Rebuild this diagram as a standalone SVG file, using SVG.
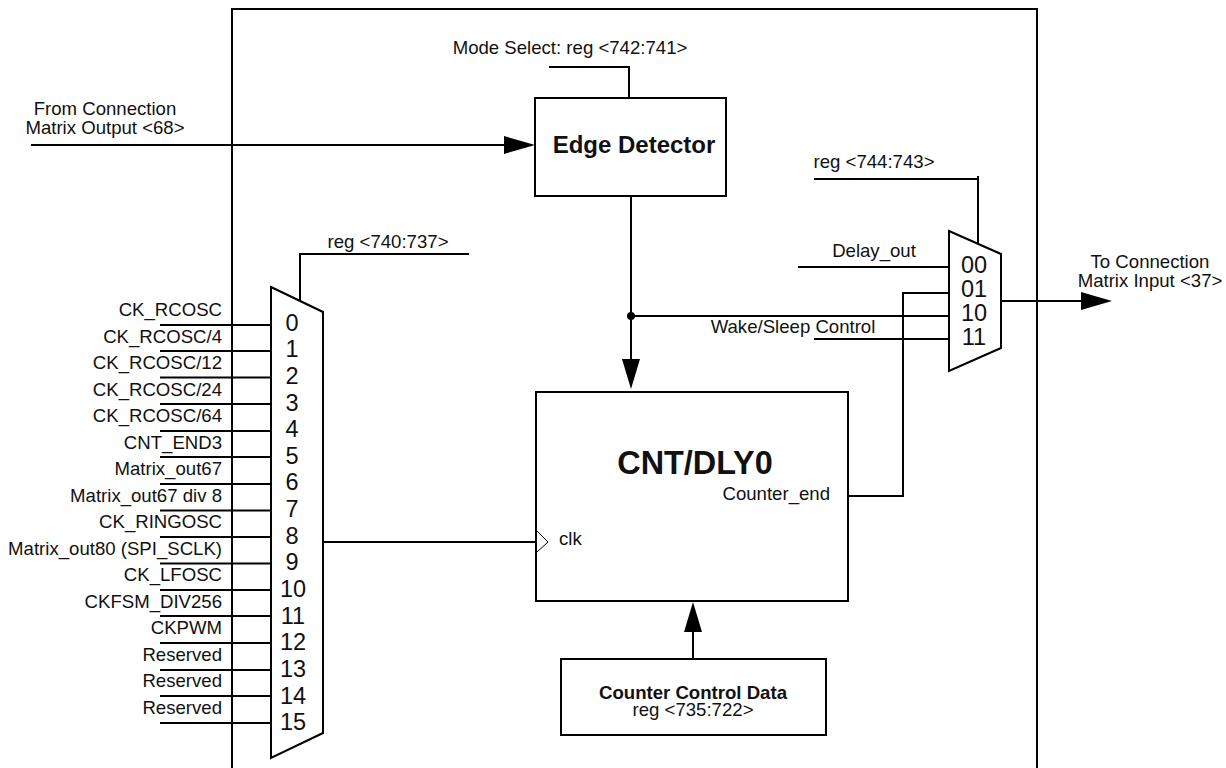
<svg xmlns="http://www.w3.org/2000/svg" width="1226" height="768" viewBox="0 0 1226 768">
<style>
text{font-family:"Liberation Sans",Arial,sans-serif;fill:#111}
.l{font-size:18.6px}
.e{text-anchor:end}
.d{font-size:23.5px;text-anchor:middle}
.w{fill:none;stroke:#000;stroke-width:2}
.b{fill:#fff;stroke:#000;stroke-width:2}
.a{fill:#000;stroke:none}
</style>
<g id="frame"><path class="w" d="M232 768V9H1037V768"/></g>
<g id="connectors">
<path class="w" d="M31 145H510M160 325H271M160 351H271M160 377.500H271M160 404H271M160 431H271M160 457H271M160 484H271M160 510.500H271M160 537H271M160 563.500H271M160 590H271M160 616H271M160 643H271M160 670H271M160 696H271M160 723H271"/>
<path class="w" d="M300 300V254H469M324 542H537M549 67H630M629 67V98M631 197V362M631 316H948M814 339H951M798 267H948M848 496H903V293H948M814 179H979M978 176V246M1002 301H1085M693 659V630"/>
<path class="a" d="M535 145L504 136V154ZM631 389L622 359H640ZM693 602L684 632H702ZM1112 301L1081 292V310Z"/>
<circle class="a" cx="631" cy="316" r="4"/>
</g>
<g id="mux16">
<path class="b" d="M271 287L323 312V733L271 758Z"/>
<text class="d" x="292" y="331">0</text><text class="d" x="292" y="357">1</text><text class="d" x="292" y="384">2</text><text class="d" x="292" y="411">3</text><text class="d" x="292" y="437">4</text><text class="d" x="292" y="464">5</text><text class="d" x="292" y="490">6</text><text class="d" x="292" y="517">7</text><text class="d" x="292" y="544">8</text><text class="d" x="292" y="570">9</text><text class="d" x="293" y="597">10</text><text class="d" x="293" y="624">11</text><text class="d" x="293" y="650">12</text><text class="d" x="293" y="677">13</text><text class="d" x="293" y="704">14</text><text class="d" x="293" y="730">15</text>
</g>
<g id="mux4">
<path class="b" d="M949 231L1001 254V348L949 371Z"/>
<text class="d" x="974" y="273">00</text><text class="d" x="974" y="297">01</text><text class="d" x="974" y="321">10</text><text class="d" x="974" y="345">11</text>
</g>
<g id="edge-detector">
<rect class="b" x="535" y="98" width="191" height="98"/>
<text x="634" y="153" text-anchor="middle" font-size="24px" font-weight="bold">Edge Detector</text>
</g>
<g id="cnt-dly0">
<rect class="b" x="536" y="392" width="312" height="209"/>
<text x="695" y="474" text-anchor="middle" font-size="32.400px" font-weight="bold">CNT/DLY0</text>
<text class="l" x="830" y="500" text-anchor="end">Counter_end</text>
<text class="l" x="559" y="545">clk</text>
<path d="M537 531L548 542L537 552" fill="none" stroke="#000" stroke-width="1"/>
</g>
<g id="counter-control">
<rect class="b" x="561" y="659" width="265" height="76"/>
<text x="693" y="699" text-anchor="middle" font-size="18.600px" font-weight="bold">Counter Control Data</text>
<text x="693" y="716" text-anchor="middle" font-size="18.600px">reg &lt;735:722&gt;</text>
</g>
<g id="labels">
<text class="l" x="570" y="54" text-anchor="middle">Mode Select: reg &lt;742:741&gt;</text>
<text class="l" x="105" y="115" text-anchor="middle">From Connection</text>
<text class="l" x="105" y="134" text-anchor="middle">Matrix Output &lt;68&gt;</text>
<text class="l" x="874" y="168" text-anchor="middle">reg &lt;744:743&gt;</text>
<text class="l" x="874" y="257" text-anchor="middle">Delay_out</text>
<text class="l" x="793" y="333" text-anchor="middle">Wake/Sleep Control</text>
<text class="l" x="1150" y="268" text-anchor="middle">To Connection</text>
<text class="l" x="1150" y="287" text-anchor="middle">Matrix Input &lt;37&gt;</text>
<text class="l" x="388" y="248" text-anchor="middle">reg &lt;740:737&gt;</text>
<text class="l e" x="222" y="316">CK_RCOSC</text>
<text class="l e" x="222" y="343">CK_RCOSC/4</text>
<text class="l e" x="222" y="369">CK_RCOSC/12</text>
<text class="l e" x="222" y="396">CK_RCOSC/24</text>
<text class="l e" x="222" y="422">CK_RCOSC/64</text>
<text class="l e" x="222" y="449">CNT_END3</text>
<text class="l e" x="222" y="475">Matrix_out67</text>
<text class="l e" x="222" y="502">Matrix_out67 div 8</text>
<text class="l e" x="222" y="528">CK_RINGOSC</text>
<text class="l e" x="222" y="555">Matrix_out80 (SPI_SCLK)</text>
<text class="l e" x="222" y="581">CK_LFOSC</text>
<text class="l e" x="222" y="608">CKFSM_DIV256</text>
<text class="l e" x="222" y="634">CKPWM</text>
<text class="l e" x="222" y="661">Reserved</text>
<text class="l e" x="222" y="687">Reserved</text>
<text class="l e" x="222" y="714">Reserved</text>
</g>
</svg>
